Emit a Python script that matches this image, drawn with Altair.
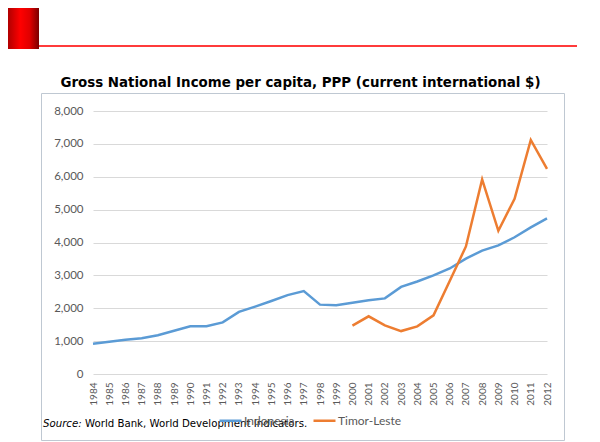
import altair as alt
import pandas as pd

years = list(range(1984, 2013))
indonesia = [920, 980, 1040, 1090, 1180, 1316, 1450, 1450, 1570, 1890, 2050, 2220, 2400, 2520,
             2110, 2090, 2170, 2240, 2300, 2650, 2815, 3000, 3210, 3510, 3755, 3910, 4160, 4460, 4735]
timor_years = list(range(2000, 2013))
timor_leste = [1470, 1755, 1480, 1306, 1450, 1786, 2830, 3880, 5920, 4357, 5327, 7120, 6240]

series_names = ["Indonesia", "Timor-Leste"]
series_colors = ["#5B9BD5", "#ED7D31"]
y_ticks = [0, 1000, 2000, 3000, 4000, 5000, 6000, 7000, 8000]
title_text = "Gross National Income per capita, PPP (current international $)"
source_label = "Source:"
source_text = "World Bank, World Development Indicators."

rows = [{"year": str(y), "series": series_names[0], "value": v} for y, v in zip(years, indonesia)]
rows += [{"year": str(y), "series": series_names[1], "value": v} for y, v in zip(timor_years, timor_leste)]
df = pd.DataFrame(rows)

W, H = 454, 263
one = pd.DataFrame({"k": [0]})

lines = alt.Chart(df).mark_line(strokeWidth=2.5).encode(
    x=alt.X("year:O", sort=[str(y) for y in years], scale=alt.Scale(padding=0),
            axis=alt.Axis(title=None, labelAngle=270, labelFont="Lato", labelFontSize=10,
                          labelColor="#595959", ticks=False, domain=False, grid=False,
                          labelPadding=8)),
    y=alt.Y("value:Q", scale=alt.Scale(domain=[0, 8000], nice=False),
            axis=alt.Axis(title=None, values=y_ticks, format=",.0f", labelFont="Lato",
                          labelFontSize=11.5, labelColor="#595959", ticks=False, domain=False,
                          gridColor="#D9D9D9", gridWidth=1, labelPadding=10)),
    color=alt.Color("series:N", scale=alt.Scale(domain=series_names, range=series_colors),
                    legend=alt.Legend(title=None, orient="none", direction="horizontal",
                                      legendX=125, legendY=297, symbolType="stroke",
                                      symbolSize=484, symbolStrokeWidth=2.5,
                                      labelFont="Lato", labelFontSize=12, labelColor="#595959",
                                      labelOffset=1, columnPadding=13)),
)

red_block = alt.Chart(one).mark_rect(
    color=alt.LinearGradient(gradient="linear", x1=0, x2=1, y1=0, y2=0,
                             stops=[alt.GradientStop(color="#b00000", offset=0),
                                    alt.GradientStop(color="#ff0000", offset=0.4),
                                    alt.GradientStop(color="#e00000", offset=0.7),
                                    alt.GradientStop(color="#7a0000", offset=1)])
).encode(x=alt.value(-85), x2=alt.value(-54), y=alt.value(-103), y2=alt.value(-62))

red_line = alt.Chart(one).mark_rule(color="#FF3B3B", strokeWidth=2).encode(
    x=alt.value(-54), x2=alt.value(W + 40), y=alt.value(-65))

border = alt.Chart(one).mark_rect(fillOpacity=0, stroke="#BFC8D2", strokeWidth=1).encode(
    x=alt.value(-51.5), x2=alt.value(471.5), y=alt.value(-17.5), y2=alt.value(329.5))

title = alt.Chart(pd.DataFrame({"t": [title_text]})).mark_text(
    font="DejaVu Sans", fontWeight="bold", fontSize=13.4, color="#000000",
    align="center", baseline="middle").encode(
    x=alt.value(207.5), y=alt.value(-28.5), text="t:N")

src1 = alt.Chart(pd.DataFrame({"t": [source_label]})).mark_text(
    font="DejaVu Sans", fontStyle="italic", fontSize=10.2, color="#000000",
    align="left", baseline="middle").encode(
    x=alt.value(-50), y=alt.value(313), text="t:N")

src2 = alt.Chart(pd.DataFrame({"t": [source_text]})).mark_text(
    font="DejaVu Sans", fontSize=10.2, color="#000000",
    align="left", baseline="middle").encode(
    x=alt.value(-8), y=alt.value(313), text="t:N")

chart = alt.layer(border, red_block, red_line, title, lines, src1, src2).properties(
    width=W, height=H,
    autosize=alt.AutoSizeParams(type="none"),
    padding={"left": 85, "top": 103, "right": 30, "bottom": 68},
    background="white",
).configure_view(stroke=None)

chart.save("out.html", embed_options={"renderer": "svg", "actions": False})
